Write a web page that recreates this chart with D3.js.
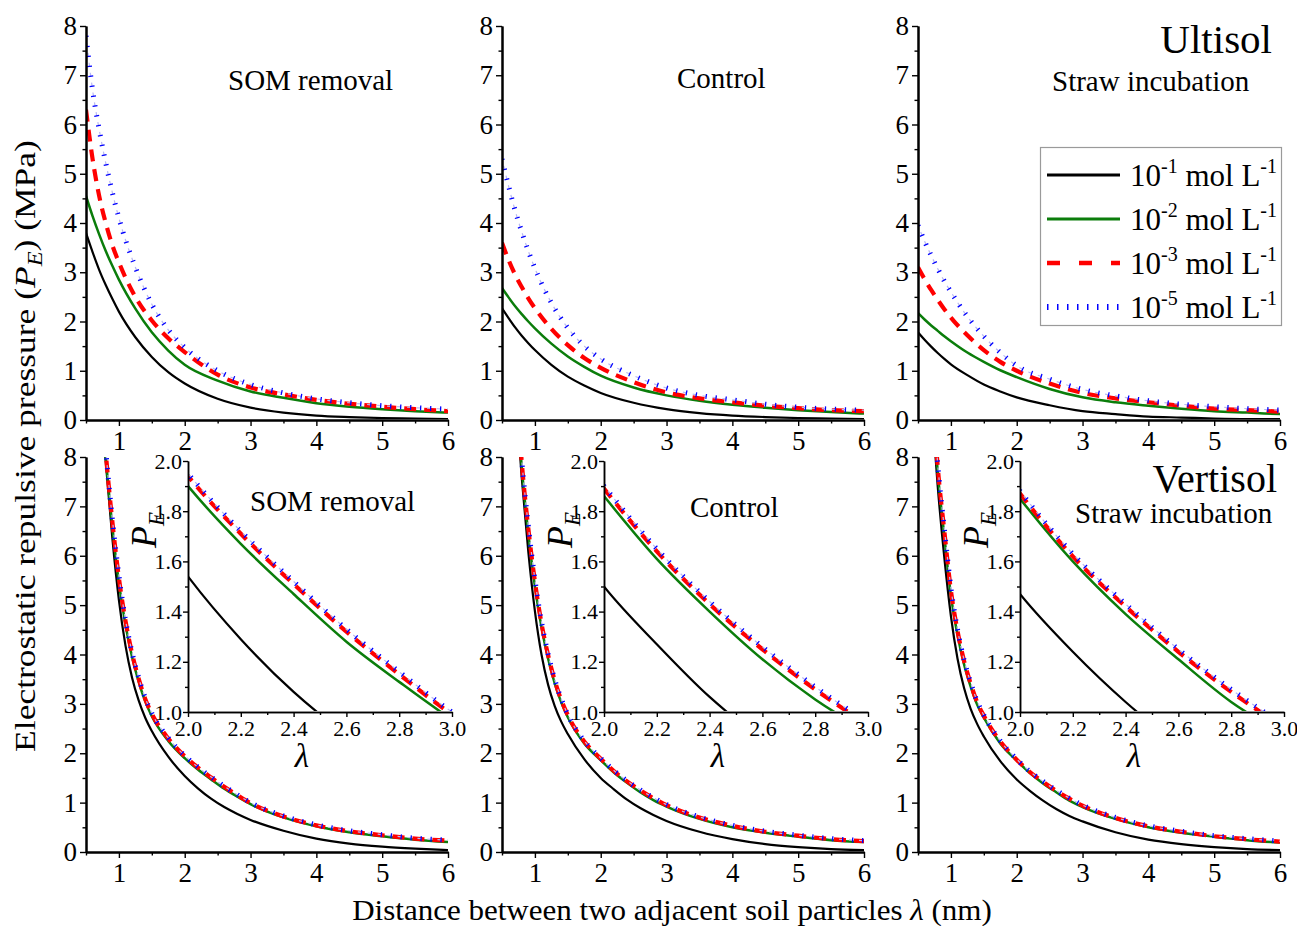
<!DOCTYPE html>
<html>
<head>
<meta charset="utf-8">
<script src="https://cdn.jsdelivr.net/npm/d3@7"></script>
<style>
  body { margin: 0; background: #fff; }
  svg { display: block; }
  text { font-family: "Liberation Serif", "Times New Roman", serif; fill: #000; }
</style>
</head>
<body>
<svg id="chart" width="1297" height="926"></svg>
<script>
// Interlayer distance λ (nm) sampled for each row of panels
const topLambda = [0.5, 0.6, 0.7, 0.8, 0.9, 1.0, 1.25, 1.5, 1.75, 2.0, 2.5, 3.0, 3.5, 4.0, 4.5, 5.0, 5.5, 6.0];
const botLambda = [0.7, 0.8, 0.9, 1.0, 1.1, 1.2, 1.3, 1.4, 1.5, 1.75, 2.0, 2.2, 2.4, 2.6, 2.8, 3.0, 3.5, 4.0, 4.5, 5.0, 5.5, 6.0];

// Electrostatic repulsive pressure P_E (MPa) — Ultisol
const ultSom1 = [3.80, 3.41, 3.05, 2.74, 2.46, 2.20, 1.68, 1.28, 0.97, 0.74, 0.43, 0.25, 0.15, 0.09, 0.06, 0.04, 0.03, 0.02];
const ultSom2 = [4.55, 4.14, 3.77, 3.43, 3.13, 2.85, 2.26, 1.78, 1.41, 1.12, 0.80, 0.58, 0.45, 0.34, 0.27, 0.22, 0.18, 0.15];
const ultSom3 = [6.30, 5.30, 4.55, 4.00, 3.55, 3.20, 2.50, 2.02, 1.66, 1.38, 0.92, 0.66, 0.52, 0.41, 0.33, 0.27, 0.22, 0.18];
const ultSom5 = [7.80, 6.70, 5.90, 5.22, 4.62, 4.10, 3.10, 2.35, 1.83, 1.47, 1.00, 0.72, 0.55, 0.43, 0.35, 0.29, 0.25, 0.22];

const ultCtl1 = [2.27, 2.07, 1.88, 1.71, 1.56, 1.42, 1.12, 0.88, 0.70, 0.55, 0.35, 0.22, 0.14, 0.09, 0.06, 0.04, 0.03, 0.02];
const ultCtl2 = [2.68, 2.49, 2.31, 2.15, 2.00, 1.86, 1.55, 1.29, 1.08, 0.90, 0.66, 0.50, 0.39, 0.31, 0.25, 0.20, 0.16, 0.13];
const ultCtl3 = [3.60, 3.25, 2.95, 2.70, 2.47, 2.27, 1.85, 1.52, 1.26, 1.06, 0.77, 0.56, 0.44, 0.36, 0.29, 0.24, 0.20, 0.18];
const ultCtl5 = [5.30, 4.75, 4.25, 3.82, 3.43, 3.08, 2.38, 1.87, 1.50, 1.24, 0.90, 0.65, 0.50, 0.41, 0.32, 0.26, 0.22, 0.20];

const ultStr1 = [1.78, 1.63, 1.49, 1.36, 1.24, 1.13, 0.91, 0.72, 0.58, 0.46, 0.30, 0.18, 0.12, 0.07, 0.05, 0.03, 0.02, 0.02];
const ultStr2 = [2.17, 2.04, 1.92, 1.81, 1.70, 1.60, 1.37, 1.18, 1.01, 0.87, 0.63, 0.46, 0.36, 0.29, 0.23, 0.18, 0.15, 0.12];
const ultStr3 = [3.10, 2.86, 2.64, 2.44, 2.25, 2.08, 1.72, 1.42, 1.18, 1.00, 0.74, 0.55, 0.44, 0.36, 0.29, 0.23, 0.20, 0.17];
const ultStr5 = [3.95, 3.63, 3.34, 3.07, 2.82, 2.60, 2.10, 1.70, 1.37, 1.10, 0.83, 0.62, 0.49, 0.39, 0.32, 0.27, 0.23, 0.20];

// Electrostatic repulsive pressure P_E (MPa) — Vertisol
const verSom1 = [9.60, 7.90, 6.36, 5.10, 4.18, 3.53, 3.07, 2.72, 2.45, 1.93, 1.54, 1.29, 1.08, 0.91, 0.77, 0.65, 0.43, 0.27, 0.17, 0.11, 0.07, 0.04];
const verSom2 = [9.80, 8.00, 6.60, 5.45, 4.60, 3.95, 3.45, 3.05, 2.75, 2.25, 1.90, 1.67, 1.47, 1.28, 1.12, 0.97, 0.70, 0.52, 0.40, 0.32, 0.25, 0.20];
const verSom3 = [9.95, 8.10, 6.70, 5.55, 4.68, 4.02, 3.51, 3.10, 2.80, 2.30, 1.94, 1.71, 1.51, 1.32, 1.15, 0.99, 0.72, 0.54, 0.42, 0.34, 0.27, 0.23];
const verSom5 = [10.0, 8.15, 6.75, 5.60, 4.70, 4.04, 3.53, 3.12, 2.81, 2.31, 1.95, 1.72, 1.52, 1.33, 1.16, 1.00, 0.73, 0.55, 0.43, 0.35, 0.28, 0.24];

const verCtl1 = [9.40, 7.58, 6.08, 4.88, 4.00, 3.39, 2.96, 2.64, 2.39, 1.88, 1.50, 1.27, 1.06, 0.89, 0.75, 0.63, 0.41, 0.26, 0.16, 0.10, 0.06, 0.04];
const verCtl2 = [9.70, 7.80, 6.45, 5.38, 4.55, 3.92, 3.42, 3.03, 2.73, 2.20, 1.86, 1.61, 1.40, 1.21, 1.05, 0.92, 0.67, 0.50, 0.39, 0.31, 0.24, 0.20];
const verCtl3 = [9.80, 7.90, 6.55, 5.48, 4.63, 3.99, 3.48, 3.08, 2.77, 2.24, 1.89, 1.64, 1.43, 1.25, 1.09, 0.95, 0.70, 0.53, 0.41, 0.33, 0.26, 0.22];
const verCtl5 = [9.85, 7.95, 6.60, 5.52, 4.66, 4.01, 3.50, 3.10, 2.78, 2.25, 1.90, 1.65, 1.44, 1.26, 1.10, 0.96, 0.71, 0.54, 0.42, 0.34, 0.27, 0.23];

const verStr1 = [9.20, 7.40, 5.96, 4.78, 3.92, 3.32, 2.90, 2.59, 2.34, 1.84, 1.47, 1.24, 1.04, 0.87, 0.73, 0.62, 0.40, 0.25, 0.16, 0.10, 0.06, 0.04];
const verStr2 = [9.60, 7.70, 6.40, 5.20, 4.40, 3.80, 3.35, 2.98, 2.72, 2.20, 1.85, 1.60, 1.39, 1.21, 1.04, 0.91, 0.67, 0.50, 0.39, 0.31, 0.24, 0.19];
const verStr3 = [9.70, 7.80, 6.50, 5.30, 4.48, 3.87, 3.41, 3.03, 2.76, 2.24, 1.87, 1.62, 1.42, 1.24, 1.08, 0.94, 0.69, 0.52, 0.41, 0.32, 0.26, 0.21];
const verStr5 = [9.75, 7.85, 6.55, 5.35, 4.51, 3.89, 3.43, 3.05, 2.77, 2.25, 1.88, 1.63, 1.43, 1.25, 1.09, 0.95, 0.70, 0.53, 0.42, 0.33, 0.27, 0.22];

// Electrolyte concentration exponents (10^n mol L^-1)
const concExponents = ["-1", "-2", "-3", "-5"];
const treatments = ["SOM removal", "Control", "Straw incubation"];
const soils = ["Ultisol", "Vertisol"];

// Tick values
const mainXTicks = [1, 2, 3, 4, 5, 6];
const mainXMinor = [0.5, 1.5, 2.5, 3.5, 4.5, 5.5];
const mainYTicks = [0, 1, 2, 3, 4, 5, 6, 7, 8];
const mainYMinor = [0.5, 1.5, 2.5, 3.5, 4.5, 5.5, 6.5, 7.5];
const insetXTicks = [2.0, 2.2, 2.4, 2.6, 2.8, 3.0];
const insetXMinor = [2.1, 2.3, 2.5, 2.7, 2.9];
const insetYTicks = [1.0, 1.2, 1.4, 1.6, 1.8, 2.0];
const insetYMinor = [1.1, 1.3, 1.5, 1.7, 1.9];

// ---- layout & styles ----
const svg = d3.select("#chart");
const colLeft = [86, 502, 918];
const plotW = 362;
const rowTop = [26, 457];
const rowBottom = [420, 852];
const insetDx = 102, insetW = 264, insetTop = 461, insetBottom = 712;

const lineStyles = [
  { color: "#000000", width: 2.2, dash: null },
  { color: "#0b7d0b", width: 2.5, dash: null },
  { color: "#ff0000", width: 4.2, dash: "12,8" },
  { color: "#0000ff", width: 5, dash: "1.3,8.7" }
];

const panels = [
  { row: 0, col: 0, lam: topLambda, vals: [ultSom1, ultSom2, ultSom3, ultSom5], tx: 228, ty: 90 },
  { row: 0, col: 1, lam: topLambda, vals: [ultCtl1, ultCtl2, ultCtl3, ultCtl5], tx: 677, ty: 88 },
  { row: 0, col: 2, lam: topLambda, vals: [ultStr1, ultStr2, ultStr3, ultStr5], tx: 1052, ty: 91 },
  { row: 1, col: 0, lam: botLambda, vals: [verSom1, verSom2, verSom3, verSom5], tx: 250, ty: 511 },
  { row: 1, col: 1, lam: botLambda, vals: [verCtl1, verCtl2, verCtl3, verCtl5], tx: 690, ty: 517 },
  { row: 1, col: 2, lam: botLambda, vals: [verStr1, verStr2, verStr3, verStr5], tx: 1075, ty: 523 }
];

function styleAxis(g, fontSize, domainW) {
  g.attr("font-family", null).attr("font-size", null);
  g.select(".domain").attr("stroke", "#000").attr("stroke-width", domainW);
  g.selectAll(".tick line").attr("stroke", "#000").attr("stroke-width", 1.4);
  g.selectAll(".tick text")
    .style("font-family", '"Liberation Serif", "Times New Roman", serif')
    .style("font-size", fontSize + "px").attr("fill", "#000");
}

function drawCurves(g, x, y, lam, vals, clipId) {
  const line = d3.line()
    .x((d, i) => x(lam[i]))
    .y(d => y(d))
    .curve(d3.curveMonotoneX);
  const cg = g.append("g").attr("clip-path", `url(#${clipId})`);
  vals.forEach((series, k) => {
    const s = lineStyles[k];
    if (k === 3) {
      // faint trace under the dotted series
      cg.append("path").attr("d", line(series)).attr("fill", "none")
        .attr("stroke", "#b8b8f2").attr("stroke-width", 1.2)
        .attr("stroke-dasharray", "4,6").attr("stroke-dashoffset", 3);
    }
    cg.append("path").attr("d", line(series))
      .attr("fill", "none")
      .attr("stroke", s.color)
      .attr("stroke-width", s.width)
      .attr("stroke-dasharray", s.dash);
  });
}

const defs = svg.append("defs");

panels.forEach((p, idx) => {
  const x0 = colLeft[p.col], x1 = x0 + plotW;
  const yTop = rowTop[p.row], yBot = rowBottom[p.row];
  const x = d3.scaleLinear().domain([0.5, 6]).range([x0, x1]);
  const y = d3.scaleLinear().domain([0, 8]).range([yBot, yTop]);
  const g = svg.append("g");

  const clipId = "clip" + idx;
  defs.append("clipPath").attr("id", clipId).append("rect")
    .attr("x", x0 + 1).attr("y", yTop).attr("width", plotW - 1).attr("height", yBot - yTop - 1);

  drawCurves(g, x, y, p.lam, p.vals, clipId);

  // main axes: minor ticks then labelled major ticks
  g.append("g").attr("transform", `translate(0,${yBot})`)
    .call(d3.axisBottom(x).tickValues(mainXMinor).tickSize(3.5).tickSizeOuter(0).tickFormat(""))
    .call(a => styleAxis(a, 27, 2));
  g.append("g").attr("transform", `translate(0,${yBot})`)
    .call(d3.axisBottom(x).tickValues(mainXTicks).tickSize(6).tickSizeOuter(0).tickPadding(5).tickFormat(d3.format("d")))
    .call(a => styleAxis(a, 27, 2));
  g.append("g").attr("transform", `translate(${x0},0)`)
    .call(d3.axisLeft(y).tickValues(mainYMinor).tickSize(3.5).tickSizeOuter(0).tickFormat(""))
    .call(a => styleAxis(a, 27, 2));
  g.append("g").attr("transform", `translate(${x0},0)`)
    .call(d3.axisLeft(y).tickValues(mainYTicks).tickSize(6).tickSizeOuter(0).tickPadding(3).tickFormat(d3.format("d")))
    .call(a => styleAxis(a, 27, 2));

  // treatment title
  g.append("text").attr("x", p.tx).attr("y", p.ty)
    .attr("font-size", 29).text(treatments[p.col]);

  // zoomed inset for the Vertisol row
  if (p.row === 1) {
    const ix0 = x0 + insetDx, ix1 = ix0 + insetW;
    const xi = d3.scaleLinear().domain([2, 3]).range([ix0, ix1]);
    const yi = d3.scaleLinear().domain([1, 2]).range([insetBottom, insetTop]);
    const iclip = "iclip" + idx;
    defs.append("clipPath").attr("id", iclip).append("rect")
      .attr("x", ix0 + 1).attr("y", insetTop - 2).attr("width", insetW).attr("height", insetBottom - insetTop + 1);
    drawCurves(g, xi, yi, p.lam, p.vals, iclip);

    g.append("g").attr("transform", `translate(0,${insetBottom})`)
      .call(d3.axisBottom(xi).tickValues(insetXMinor).tickSize(3).tickSizeOuter(0).tickFormat(""))
      .call(a => styleAxis(a, 22, 1.5));
    g.append("g").attr("transform", `translate(0,${insetBottom})`)
      .call(d3.axisBottom(xi).tickValues(insetXTicks).tickSize(5).tickSizeOuter(0).tickPadding(3).tickFormat(d3.format(".1f")))
      .call(a => styleAxis(a, 22, 1.5));
    g.append("g").attr("transform", `translate(${ix0},0)`)
      .call(d3.axisLeft(yi).tickValues(insetYMinor).tickSize(3).tickSizeOuter(0).tickFormat(""))
      .call(a => styleAxis(a, 22, 1.5));
    g.append("g").attr("transform", `translate(${ix0},0)`)
      .call(d3.axisLeft(yi).tickValues(insetYTicks).tickSize(5).tickSizeOuter(0).tickPadding(1).tickFormat(d3.format(".1f")))
      .call(a => styleAxis(a, 22, 1.5));

    g.append("text").attr("x", ix0 + insetW / 2 - 18).attr("y", 767)
      .attr("text-anchor", "middle").attr("font-size", 33).attr("font-style", "italic").text("λ");
    const pe = g.append("text")
      .attr("transform", `translate(${ix0 - 32},530) rotate(-90)`)
      .attr("text-anchor", "middle").attr("font-size", 36).attr("font-style", "italic");
    pe.append("tspan").text("P");
    pe.append("tspan").attr("font-size", 23).attr("dy", 8).text("E");
  }
});

// soil names
svg.append("text").attr("x", 1272).attr("y", 53).attr("text-anchor", "end")
  .attr("font-size", 41).text(soils[0]);
svg.append("text").attr("x", 1277).attr("y", 492).attr("text-anchor", "end")
  .attr("font-size", 40).text(soils[1]);

// legend
const leg = svg.append("g");
leg.append("rect").attr("x", 1040.5).attr("y", 147.5).attr("width", 241).attr("height", 178)
  .attr("fill", "#fff").attr("stroke", "#9a9a9a").attr("stroke-width", 1.2);
concExponents.forEach((ex, k) => {
  const ly = 175 + k * 44;
  const s = lineStyles[k];
  if (k === 3) {
    leg.append("line").attr("x1", 1047).attr("x2", 1120).attr("y1", ly).attr("y2", ly)
      .attr("stroke", s.color).attr("stroke-width", 6).attr("stroke-dasharray", "1.5,8.5");
  } else {
    leg.append("line").attr("x1", 1047).attr("x2", 1120).attr("y1", ly).attr("y2", ly)
      .attr("stroke", s.color).attr("stroke-width", k === 2 ? 4.5 : 3)
      .attr("stroke-dasharray", k === 2 ? "13,19" : null);
  }
  const t = leg.append("text").attr("x", 1130).attr("y", ly + 11).attr("font-size", 31);
  t.append("tspan").text("10");
  t.append("tspan").attr("font-size", 20).attr("dy", -13).text(ex);
  t.append("tspan").attr("dy", 13).text(" mol L");
  t.append("tspan").attr("font-size", 20).attr("dy", -13).text("-1");
});

// axis titles, stretched along their reading direction to span the figure
function fitLength(sel, target) {
  const len = sel.node().getComputedTextLength();
  return len > 0 ? target / len : 1;
}
const yl = svg.append("text")
  .attr("text-anchor", "middle").attr("font-size", 29);
yl.append("tspan").text("Electrostatic repulsive pressure (");
yl.append("tspan").attr("font-style", "italic").text("P");
yl.append("tspan").attr("font-style", "italic").attr("font-size", 20).attr("dy", 7).text("E");
yl.append("tspan").attr("dy", -7).text(") (MPa)");
yl.attr("transform", `translate(35,446) rotate(-90) scale(${fitLength(yl, 612)},1)`);

const xl = svg.append("text")
  .attr("text-anchor", "middle").attr("font-size", 29);
xl.append("tspan").text("Distance between two adjacent soil particles ");
xl.append("tspan").attr("font-style", "italic").text("λ");
xl.append("tspan").text(" (nm)");
xl.attr("transform", `translate(672,920) scale(${fitLength(xl, 640)},1)`);
</script>
</body>
</html>
